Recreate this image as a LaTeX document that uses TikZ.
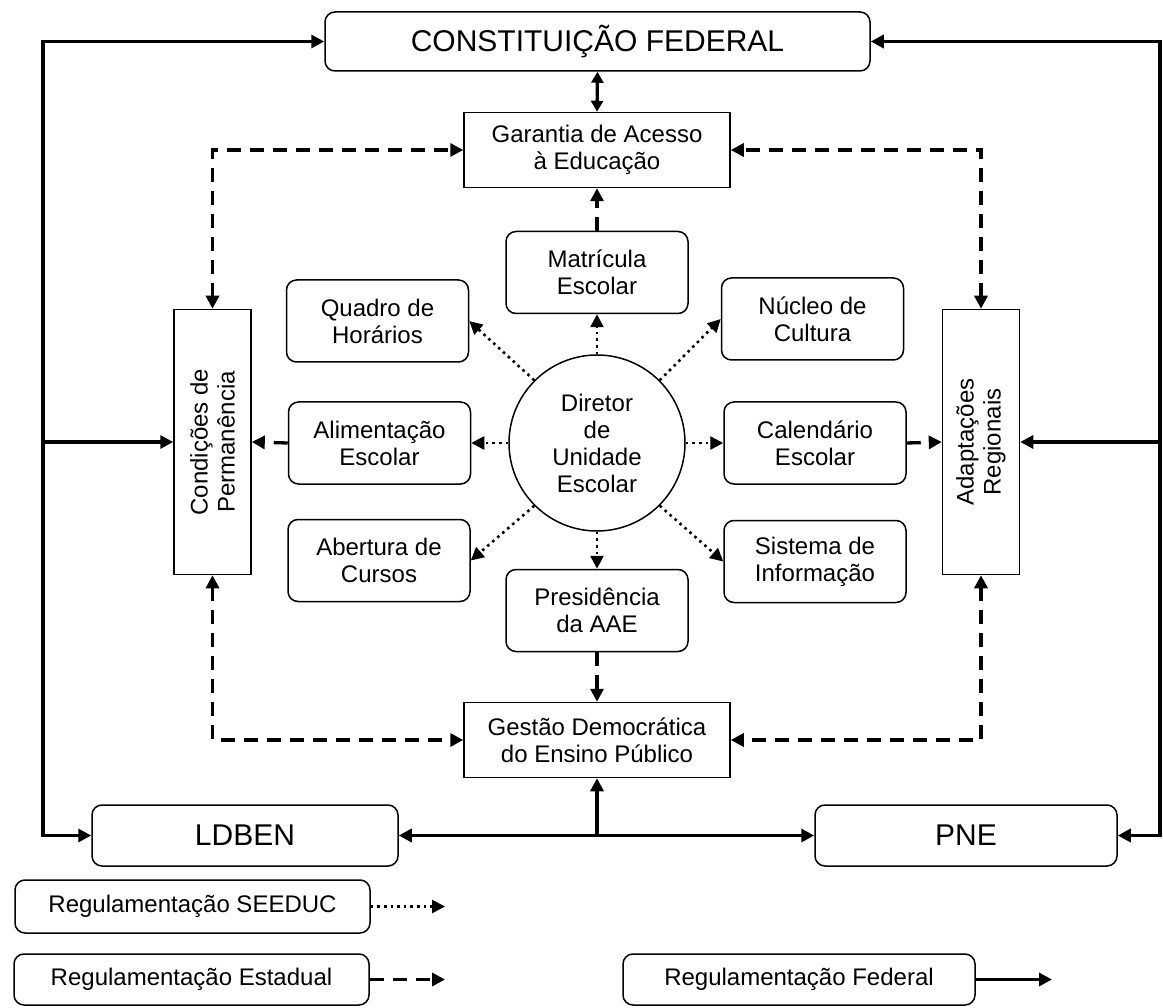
\documentclass[tikz,border=0pt]{standalone}
\usepackage{fontspec}
\setmainfont{Liberation Sans}
\usetikzlibrary{arrows.meta}
\newcommand{\fsmall}{\fontsize{24}{27}\selectfont}
\newcommand{\fbig}{\fontsize{30}{34}\selectfont}
\begin{document}
\begin{tikzpicture}[x=1pt,y=-1pt,
  rbox/.style={draw, line width=1.5pt, rounded corners=10pt, fill=white, align=center,
               inner sep=0pt, font=\fsmall, minimum width=182pt, minimum height=82pt},
  sbox/.style={draw, line width=1.5pt, fill=white, align=center, inner sep=0pt, font=\fsmall},
  tip/.style={-{Triangle[length=13pt,width=13pt]}},
  fedline/.style={line width=3.3pt, tip},
  estline/.style={line width=3.3pt, dash pattern=on 14pt off 9pt, tip},
  seeline/.style={line width=2.6pt, dash pattern=on 2.6pt off 4pt, tip},
]
\useasboundingbox (0,0) rectangle (1163,1008);

% main regulation boxes
\node[rbox, font=\fbig, minimum width=545pt, minimum height=59pt] (con) at (597.5,41.5) {CONSTITUIÇÃO FEDERAL};
\node[rbox, font=\fbig, minimum width=306pt, minimum height=61pt] (ldb) at (245,835.5) {LDBEN};
\node[rbox, font=\fbig, minimum width=302pt, minimum height=61pt] (pne) at (966,835.5) {PNE};

% principle boxes
\node[sbox, minimum width=266pt, minimum height=75pt] (gar) at (597,150) {Garantia de Acesso\\à Educação};
\node[sbox, minimum width=266pt, minimum height=75pt] (ges) at (597,740) {Gestão Democrática\\do Ensino Público};
\node[sbox, minimum width=77pt, minimum height=265pt] (cond) at (212.5,442) {};
\node[font=\fsmall, align=center, rotate=90] at (cond.center) {Condições de\\Permanência};
\node[sbox, minimum width=77pt, minimum height=265pt] (adap) at (981,442) {};
\node[font=\fsmall, align=center, rotate=90] at (adap.center) {Adaptações\\Regionais};

% director and attributions
\node[draw, line width=1.5pt, circle, minimum size=176pt, inner sep=0pt, align=center, font=\fsmall] (dir) at (597,443) {Diretor\\de\\Unidade\\Escolar};
\node[rbox] (mat) at (597,272.5) {Matrícula\\Escolar};
\node[rbox] (pre) at (597,610.5) {Presidência\\da AAE};
\node[rbox] (qua) at (377.5,321) {Quadro de\\Horários};
\node[rbox] (ali) at (379.5,443) {Alimentação\\Escolar};
\node[rbox] (abe) at (379,560.5) {Abertura de\\Cursos};
\node[rbox] (nuc) at (812.5,319) {Núcleo de\\Cultura};
\node[rbox] (cal) at (815,443) {Calendário\\Escolar};
\node[rbox] (sis) at (815,561.5) {Sistema de\\Informação};

% SEEDUC regulation (dotted)
\draw[seeline] (dir.north) -- (mat.south);
\draw[seeline] (dir.south) -- (pre.north);
\draw[seeline] (dir.west) -- (ali.east);
\draw[seeline] (dir.east) -- (cal.west);
\draw[seeline] (dir.135) -- (qua.east);
\draw[seeline] (dir.225) -- (abe.east);
\draw[seeline] (dir.45) -- (nuc.west);
\draw[seeline] (dir.-45) -- (sis.west);

% state regulation (dashed)
\draw[estline] (mat.north) -- (gar.south);
\draw[estline] (pre.south) -- (ges.north);
\draw[estline] (ali.west) -- (cond.east);
\draw[estline] (cal.east) -- (adap.west);
\draw[estline, {Triangle[length=13pt,width=13pt]}-{Triangle[length=13pt,width=13pt]}] (cond.north) |- (gar.west);
\draw[estline, {Triangle[length=13pt,width=13pt]}-{Triangle[length=13pt,width=13pt]}] (adap.north) |- (gar.east);
\draw[estline, {Triangle[length=13pt,width=13pt]}-{Triangle[length=13pt,width=13pt]}] (cond.south) |- (ges.west);
\draw[estline, {Triangle[length=13pt,width=13pt]}-{Triangle[length=13pt,width=13pt]}] (adap.south) |- (ges.east);

% federal regulation (solid)
\coordinate (lt) at (43,442);
\coordinate (rt) at (1160,442);
\coordinate (bj) at (597,835.5);
\draw[fedline] (lt) |- (con.west);
\draw[fedline] (lt) -- (cond.west);
\draw[fedline] (lt) |- (ldb.west);
\draw[fedline] (rt) |- (con.east);
\draw[fedline] (rt) -- (adap.east);
\draw[fedline] (rt) |- (pne.east);
\draw[fedline] (bj) -- (ges.south);
\draw[fedline] (bj) -- (ldb.east);
\draw[fedline] (bj) -- (pne.west);
\draw[line width=3.3pt, {Triangle[length=11pt,width=12pt]}-{Triangle[length=11pt,width=12pt]}] (con.south) -- (gar.north);

% legend
\node[rbox, minimum width=355pt, minimum height=53pt] (lsee) at (192.5,906.5) {Regulamentação SEEDUC};
\node[rbox, minimum width=355pt, minimum height=51pt] (lest) at (191.5,979.5) {Regulamentação Estadual};
\node[rbox, minimum width=352pt, minimum height=51pt] (lfed) at (799,979.5) {Regulamentação Federal};
\coordinate (esee) at (445,906.5);
\coordinate (eest) at (445,979.5);
\coordinate (efed) at (1052,979.5);
\draw[seeline] (lsee.east) -- (esee);
\draw[estline] (lest.east) -- (eest);
\draw[fedline] (lfed.east) -- (efed);
\end{tikzpicture}
\end{document}
